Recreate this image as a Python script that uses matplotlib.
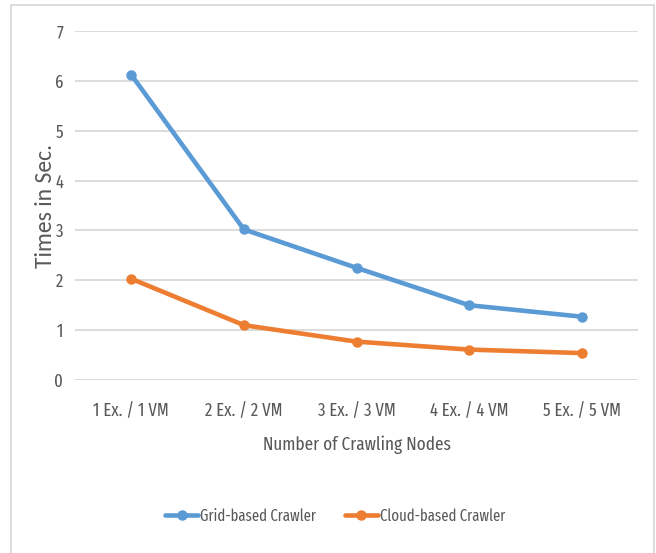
import matplotlib
matplotlib.use("Agg")
import matplotlib.pyplot as plt
from matplotlib.patches import Rectangle

categories = ["1 Ex. / 1 VM", "2 Ex. / 2 VM", "3 Ex. / 3 VM", "4 Ex. / 4 VM", "5 Ex. / 5 VM"]
grid_crawler = [6.12, 3.02, 2.25, 1.50, 1.27]
cloud_crawler = [2.03, 1.10, 0.77, 0.61, 0.54]
y_ticks = [0, 1, 2, 3, 4, 5, 6, 7]

plt.rcParams["font.family"] = ["Fira Sans Extra Condensed", "DejaVu Sans"]

TEXT = "#595959"
BLUE = "#5B9BD5"
ORANGE = "#ED7D31"
GRID = "#D9D9D9"

W, H = 656, 553
fig = plt.figure(figsize=(W / 100, H / 100), dpi=100)

# light outer chart-area border
fig.patches.append(Rectangle((11 / W, -0.02), 643 / W, 1 - 4.5 / H + 0.02,
                             transform=fig.transFigure, fill=False,
                             edgecolor="#D9D9D9", linewidth=1.3))

ax = fig.add_axes([75 / W, 1 - 380 / H, 563 / W, 349 / H])
x = list(range(len(categories)))
ax.plot(x, grid_crawler, color=BLUE, lw=3.3, marker="o", ms=6.5,
        label="Grid-based Crawler", solid_capstyle="round", solid_joinstyle="round")
ax.plot(x, cloud_crawler, color=ORANGE, lw=3.3, marker="o", ms=6.5,
        label="Cloud-based Crawler", solid_capstyle="round", solid_joinstyle="round")

ax.set_xlim(-0.5, len(categories) - 0.5)
ax.set_ylim(0, 7)
ax.set_yticks(y_ticks)
ax.set_xticks(x)
ax.set_xticklabels(categories)
ax.yaxis.grid(True, color=GRID, lw=1.3)
ax.set_axisbelow(True)
for s in ax.spines.values():
    s.set_visible(False)
ax.tick_params(axis="both", length=0, colors=TEXT, labelsize=13)
ax.tick_params(axis="x", pad=16)
ax.tick_params(axis="y", pad=8.5)

ax.set_xlabel("Number of Crawling Nodes", color=TEXT, fontsize=13.5, labelpad=11)
ax.set_ylabel("Times in Sec.", color=TEXT, fontsize=17, labelpad=-1,
              family=["Carlito", "DejaVu Sans"])

leg = fig.legend(loc="center", bbox_to_anchor=(335 / W, 1 - 516 / H), ncol=2,
                 frameon=False, fontsize=11.5, handlelength=2.1, handletextpad=0.1,
                 columnspacing=1.8)
for t in leg.get_texts():
    t.set_color(TEXT)

fig.savefig("out.png", dpi=100)
